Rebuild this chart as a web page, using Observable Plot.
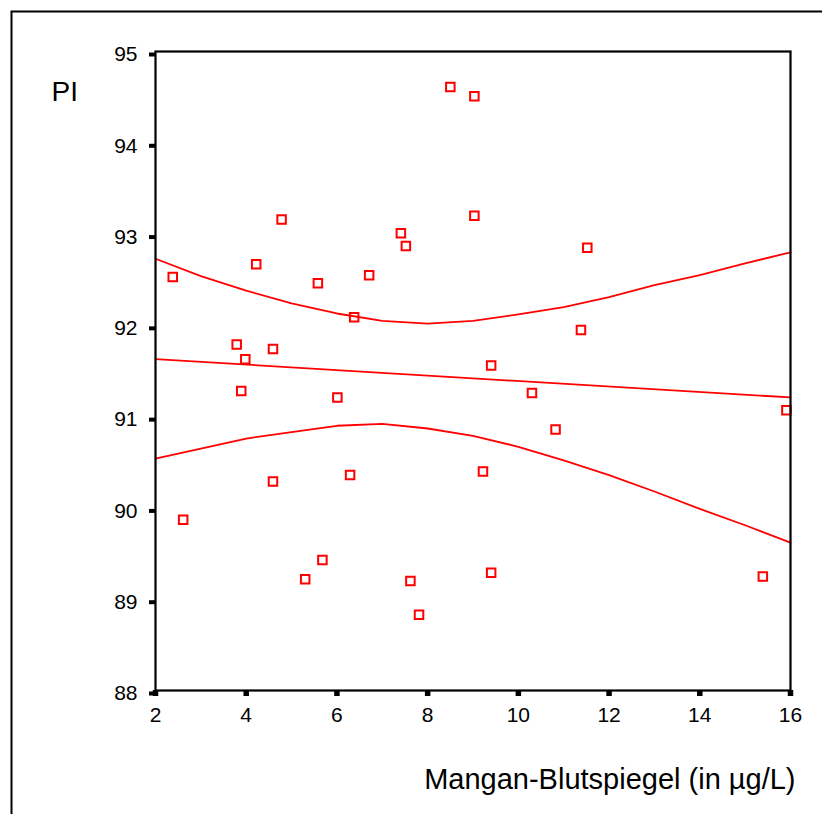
<!DOCTYPE html>
<html>
<head>
<meta charset="utf-8">
<script src="https://cdn.jsdelivr.net/npm/d3@7"></script>
<script src="https://cdn.jsdelivr.net/npm/@observablehq/plot@0.6"></script>
<style>
  html, body { margin: 0; padding: 0; background: white; overflow: hidden; }
</style>
</head>
<body>
<div id="chart"></div>
<script>
// Scatter points: Mangan-Blutspiegel (µg/L) vs PI
const manganX = [2.38, 2.61, 3.79, 3.89, 3.98, 4.22, 4.59, 4.59, 4.78, 5.30, 5.58, 5.68, 6.01, 6.29, 6.38, 6.71,
                 7.41, 7.52, 7.62, 7.81, 8.50, 9.03, 9.03, 9.22, 9.40, 9.40, 10.30, 10.82, 11.38, 11.52, 15.39, 15.91];
const piY     = [92.53, 89.87, 91.79, 91.28, 91.63, 92.67, 91.74, 90.29, 93.16, 89.22, 92.46, 89.43, 91.21, 90.36, 92.09, 92.55,
                 93.01, 92.87, 89.20, 88.83, 94.61, 94.51, 93.20, 90.40, 91.56, 89.29, 91.26, 90.86, 91.95, 92.85, 89.25, 91.07];

// Regression line (read at the ends)
const fitX = [2, 16];
const fitY = [91.63, 91.21];

// Confidence band at each integer x
const bandX     = [2, 3, 4, 5, 6, 7, 8, 9, 10, 11, 12, 13, 14, 15, 16];
const bandUpper = [92.73, 92.54, 92.38, 92.24, 92.13, 92.05, 92.02, 92.05, 92.12, 92.20, 92.31, 92.44, 92.55, 92.68, 92.80];
const bandLower = [90.54, 90.65, 90.76, 90.83, 90.90, 90.92, 90.87, 90.79, 90.67, 90.52, 90.36, 90.18, 89.99, 89.81, 89.62];

// Tick values
const xTicks = [2, 4, 6, 8, 10, 12, 14, 16];
const yTicks = [88, 89, 90, 91, 92, 93, 94, 95];

const points = manganX.map((x, i) => ({x, y: piY[i]}));
const fit = fitX.map((x, i) => ({x, y: fitY[i]}));
const upper = bandX.map((x, i) => ({x, y: bandUpper[i]}));
const lower = bandX.map((x, i) => ({x, y: bandLower[i]}));

const red = "#ff0000";

const chart = Plot.plot({
  width: 822,
  height: 814,
  marginLeft: 155,
  marginRight: 32,
  marginTop: 51,
  marginBottom: 124,
  x: {domain: [2, 16]},
  y: {domain: [88, 95]},
  style: {fontFamily: "'Liberation Sans', Arial, sans-serif", fontSize: "21px", background: "white", overflow: "hidden", color: "black"},
  marks: [
    // outer border (only left/top visible in the picture)
    Plot.frame({stroke: "black", strokeWidth: 2, insetLeft: -144, insetTop: -40, insetRight: -300, insetBottom: -300}),
    Plot.line(upper, {x: "x", y: "y", stroke: red, strokeWidth: 1.8}),
    Plot.line(lower, {x: "x", y: "y", stroke: red, strokeWidth: 1.8}),
    Plot.line(fit, {x: "x", y: "y", stroke: red, strokeWidth: 1.8}),
    Plot.dot(points, {x: "x", y: "y", symbol: "square", r: 4.8, stroke: red, strokeWidth: 2, fill: "none"}),
    Plot.frame({stroke: "black", strokeWidth: 2.2}),
    Plot.axisY(yTicks, {tickSize: 6, strokeWidth: 4, tickPadding: 12, fontSize: 21, dy: 3, tickFormat: d => d, label: null, stroke: "black"}),
    Plot.axisX(xTicks, {tickSize: 6, strokeWidth: 5.5, tickPadding: 11, fontSize: 21, tickFormat: d => d, label: null, stroke: "black"}),
    Plot.text(["PI"], {frameAnchor: "top-left", dx: -104, dy: 49, textAnchor: "start", lineAnchor: "bottom", fontSize: 28, fill: "black"}),
    Plot.text(["Mangan-Blutspiegel (in µg/L)"], {frameAnchor: "bottom-right", dx: 5, dy: 98, textAnchor: "end", lineAnchor: "bottom", fontSize: 29, fill: "black"})
  ]
});

document.getElementById("chart").appendChild(chart);
</script>
</body>
</html>
